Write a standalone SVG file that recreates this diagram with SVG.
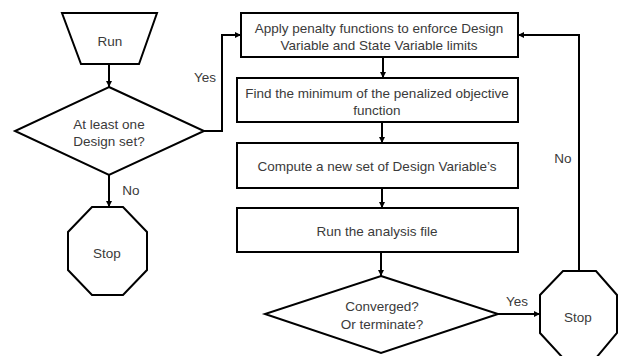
<svg xmlns="http://www.w3.org/2000/svg" width="620" height="356" viewBox="0 0 620 356">
<defs>
<marker id="ah" viewBox="0 0 10 10" refX="10" refY="5" markerWidth="6" markerHeight="6" markerUnits="userSpaceOnUse" orient="auto">
<path d="M0,0 L10,5 L0,10 z" fill="#000"/>
</marker>
<style>
.s{fill:#fff;stroke:#000;stroke-width:2;stroke-linejoin:miter}
.t{font-family:"Liberation Sans",Arial,sans-serif;font-size:13.5px;fill:#3a3a3a;text-anchor:middle}
.c{fill:none;stroke:#000;stroke-width:2}
</style>
</defs>
<rect width="620" height="356" fill="#fff"/>
<g id="connectors">
<path class="c" d="M109,64 V87" marker-end="url(#ah)"/>
<path class="c" d="M109,175 V207" marker-end="url(#ah)"/>
<path class="c" d="M204,131 H222 V35 H241" marker-end="url(#ah)"/>
<path class="c" d="M383,57 V78" marker-end="url(#ah)"/>
<path class="c" d="M382,122 V143" marker-end="url(#ah)"/>
<path class="c" d="M382,188 V208" marker-end="url(#ah)"/>
<path class="c" d="M381,252 V276" marker-end="url(#ah)"/>
<path class="c" d="M498,314 H540" marker-end="url(#ah)"/>
<path class="c" d="M579,271 V35 H518" marker-end="url(#ah)"/>
<text class="t" x="205" y="82">Yes</text>
<text class="t" x="131" y="195">No</text>
<text class="t" x="517" y="306">Yes</text>
<text class="t" x="563" y="163">No</text>
</g>
<g id="run">
<polygon class="s" points="62,13 157,13 139,64 81,64"/>
<text class="t" x="110" y="46">Run</text>
</g>
<g id="decision1">
<polygon class="s" points="109,87 204,131 109,175 15,131"/>
<text class="t" x="109" y="129">At least one</text>
<text class="t" x="109" y="146">Design set?</text>
</g>
<g id="stop1">
<polygon class="s" points="92,207 123,207 147,232 147,270 123,295 92,295 68,270 68,232"/>
<text class="t" x="107" y="258">Stop</text>
</g>
<g id="box1">
<rect class="s" x="241" y="13" width="277" height="44"/>
<text class="t" x="379" y="33">Apply penalty functions to enforce Design</text>
<text class="t" x="379" y="50">Variable and State Variable limits</text>
</g>
<g id="box2">
<rect class="s" x="237" y="78" width="281" height="44"/>
<text class="t" x="377" y="98">Find the minimum  of the penalized objective</text>
<text class="t" x="377" y="115">function</text>
</g>
<g id="box3">
<rect class="s" x="237" y="143" width="281" height="45"/>
<text class="t" x="377" y="171">Compute a new set of Design Variable’s</text>
</g>
<g id="box4">
<rect class="s" x="237" y="208" width="281" height="44"/>
<text class="t" x="377" y="236">Run the analysis file</text>
</g>
<g id="decision2">
<polygon class="s" points="381,276 498,314 381,353 265,314"/>
<text class="t" x="382" y="311">Converged?</text>
<text class="t" x="382" y="329">Or terminate?</text>
</g>
<g id="stop2">
<polygon class="s" points="563,271 596,271 617,295 617,333 596,358 563,358 540,333 540,295"/>
<text class="t" x="578" y="322">Stop</text>
</g>
</svg>
